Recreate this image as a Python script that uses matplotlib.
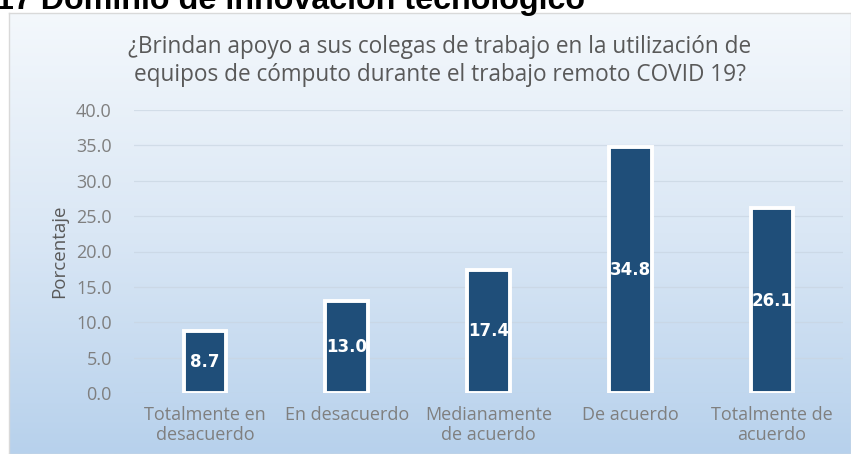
import matplotlib.pyplot as plt
import numpy as np
from matplotlib.colors import LinearSegmentedColormap

categories = ["Totalmente en\ndesacuerdo", "En desacuerdo", "Medianamente\nde acuerdo",
              "De acuerdo", "Totalmente de\nacuerdo"]
values = [8.7, 13.0, 17.4, 34.8, 26.1]
yticks = [0, 5, 10, 15, 20, 25, 30, 35, 40]

W, H = 851, 454
fig = plt.figure(figsize=(W / 100, H / 100), dpi=100)
fig.patch.set_facecolor("white")

# chart frame with vertical gradient
bg = fig.add_axes([9 / W, 0, (W - 9) / W, (H - 13) / H])
grad = LinearSegmentedColormap.from_list("g", ["#f4f8fc", "#dae7f5", "#b7d1ec"])
bg.imshow(np.linspace(0, 1, 256).reshape(-1, 1), aspect="auto", cmap=grad,
          extent=[0, 1, 0, 1], origin="upper")
bg.set_xticks([])
bg.set_yticks([])
for s in bg.spines.values():
    s.set_color("#d9d9d9")
    s.set_linewidth(1)

# outer heading, clipped at top
fig.text(-4 / W, 1 - 9 / H, "17 Dominio de innovación tecnológico",
         fontsize=23.2, fontweight="bold", family="Liberation Sans",
         va="baseline", ha="left", color="black")

x0, x1 = 134, 843
y0, y1 = 393, 110
ax = fig.add_axes([x0 / W, 1 - y0 / H, (x1 - x0) / W, (y0 - y1) / H])
ax.patch.set_alpha(0)
x = np.arange(len(categories))
bars = ax.bar(x, values, width=0.3, color="#1f4e79", edgecolor="white",
              linewidth=2.8, zorder=3)
for b, v in zip(bars, values):
    ax.text(b.get_x() + b.get_width() / 2, v / 2, f"{v:.1f}", ha="center",
            va="center", color="white", fontsize=12, fontweight="bold",
            family="DejaVu Sans", zorder=4)

ax.set_xlim(-0.5, len(categories) - 0.5)
ax.set_ylim(0, 40)
ax.set_yticks(yticks)
ax.set_yticklabels([f"{t:.1f}" for t in yticks], fontsize=13, color="#7f7f7f",
                   family="Open Sans")
ax.set_xticks(x)
ax.set_xticklabels(categories, fontsize=13, color="#7f7f7f", family="Open Sans",
                   linespacing=1.15)
ax.tick_params(length=0, axis="y", pad=16)
ax.tick_params(length=0, axis="x", pad=9)
ax.grid(axis="y", color="#c9d5e2", linewidth=0.9, alpha=0.7, zorder=0)
for s in ax.spines.values():
    s.set_visible(False)
ax.set_ylabel("Porcentaje", fontsize=13.5, color="#595959", family="Open Sans",
              labelpad=6)

fig.text(440 / W, 1 - 61 / H,
         "¿Brindan apoyo a sus colegas de trabajo en la utilización de\n"
         "equipos de cómputo durante el trabajo remoto COVID 19?",
         ha="center", va="center", fontsize=16.3, color="#595959",
         family="Open Sans", linespacing=1.2)

fig.savefig("out.png", dpi=100)
